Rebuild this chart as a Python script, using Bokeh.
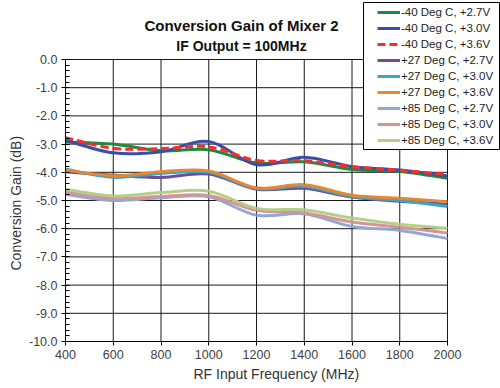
from bokeh.plotting import figure
from bokeh.models import (Range1d, SingleIntervalTicker, PrintfTickFormatter,
                          Legend, LegendItem, Label, Title, BoxAnnotation,
                          ColumnDataSource)
from bokeh.embed import file_html
from bokeh.resources import INLINE

# ---- data ----
freq = [400, 600, 800, 1000, 1200, 1400, 1600, 1800, 2000]

m40_v27 = [-2.92, -3.00, -3.24, -3.20, -3.67, -3.63, -3.90, -3.97, -4.21]
m40_v30 = [-2.86, -3.31, -3.27, -2.91, -3.73, -3.47, -3.80, -3.92, -4.13]
m40_v36 = [-2.77, -3.15, -3.16, -3.10, -3.58, -3.59, -3.80, -3.93, -4.08]
p27_v27 = [-3.98, -4.10, -4.18, -4.06, -4.60, -4.57, -4.88, -5.03, -5.13]
p27_v30 = [-3.88, -4.18, -4.04, -4.00, -4.58, -4.50, -4.86, -5.00, -5.21]
p27_v36 = [-3.92, -4.12, -3.98, -3.95, -4.55, -4.44, -4.81, -4.92, -5.04]
p85_v27 = [-4.78, -5.00, -4.90, -4.87, -5.52, -5.47, -5.92, -6.06, -6.35]
p85_v30 = [-4.70, -4.92, -4.86, -4.82, -5.35, -5.44, -5.76, -5.95, -6.15]
p85_v36 = [-4.60, -4.84, -4.72, -4.67, -5.28, -5.33, -5.62, -5.84, -5.98]

series_labels = ["-40 Deg C, +2.7V", "-40 Deg C, +3.0V", "-40 Deg C, +3.6V",
                 "+27 Deg C, +2.7V", "+27 Deg C, +3.0V", "+27 Deg C, +3.6V",
                 "+85 Deg C, +2.7V", "+85 Deg C, +3.0V", "+85 Deg C, +3.6V"]
series_values = [m40_v27, m40_v30, m40_v36, p27_v27, p27_v30, p27_v36,
                 p85_v27, p85_v30, p85_v36]
series_colors = ["#1f8a3f", "#3b4ea6", "#ff2a2a", "#6a4f9a", "#3fa3c4",
                 "#e5882f", "#8ea9d9", "#d69593", "#b3cf8b"]
series_dash = ["solid", "solid", "8 4", "solid", "solid", "solid",
               "solid", "solid", "solid"]

# axis tick positions (plot area is 400..2000 MHz, -10..0 dB)
x_ticks = [400, 600, 800, 1000, 1200, 1400, 1600, 1800, 2000]
y_ticks = [0, -1, -2, -3, -4, -5, -6, -7, -8, -9, -10]

FONT = "Liberation Sans"

# frame geometry: the frame also covers the title / legend area so that
# annotations drawn there are not clipped.
FRAME_L, FRAME_R, FRAME_T, FRAME_B = 65, 500, 0, 341
PLOT_R_PX, PLOT_T_PX = 447, 59           # where 2000 MHz and 0 dB sit
px_per_mhz = (PLOT_R_PX - FRAME_L) / (x_ticks[-1] - x_ticks[0])
px_per_db = (FRAME_B - PLOT_T_PX) / (y_ticks[0] - y_ticks[-1])
x_end = x_ticks[-1] + (FRAME_R - PLOT_R_PX) / px_per_mhz
y_end = y_ticks[0] + (PLOT_T_PX - FRAME_T) / px_per_db


def smooth_segments(xs, ys):
    """Catmull-Rom control points so that the library's bezier glyph draws
    an Excel-like smoothed line through the data points."""
    n = len(xs)
    d = {k: [] for k in ("x0", "y0", "x1", "y1", "cx0", "cy0", "cx1", "cy1")}
    for i in range(n - 1):
        xp, yp = (xs[i - 1], ys[i - 1]) if i > 0 else (xs[i], ys[i])
        xn, yn = (xs[i + 2], ys[i + 2]) if i + 2 < n else (xs[i + 1], ys[i + 1])
        d["x0"].append(xs[i]); d["y0"].append(ys[i])
        d["x1"].append(xs[i + 1]); d["y1"].append(ys[i + 1])
        d["cx0"].append(xs[i] + (xs[i + 1] - xp) / 6.0)
        d["cy0"].append(ys[i] + (ys[i + 1] - yp) / 6.0)
        d["cx1"].append(xs[i + 1] - (xn - xs[i]) / 6.0)
        d["cy1"].append(ys[i + 1] - (yn - ys[i]) / 6.0)
    return ColumnDataSource(d)


p = figure(width=500, height=388, output_backend="svg", toolbar_location=None,
           x_range=Range1d(x_ticks[0], x_end), y_range=Range1d(y_ticks[-1], y_end),
           min_border=0, min_border_left=FRAME_L, min_border_right=500 - FRAME_R,
           min_border_top=FRAME_T, min_border_bottom=388 - FRAME_B)

p.background_fill_color = "white"
p.border_fill_color = "white"
p.outline_line_color = None
p.xgrid.visible = False
p.ygrid.visible = False

# axes
p.xaxis.ticker = SingleIntervalTicker(interval=200, num_minor_ticks=0)
p.yaxis.ticker = SingleIntervalTicker(interval=1, num_minor_ticks=5)
p.yaxis.formatter = PrintfTickFormatter(format="%.1f")
p.xaxis.bounds = (x_ticks[0], x_ticks[-1])
p.yaxis.bounds = (y_ticks[-1], y_ticks[0])

for ax in (p.xaxis[0], p.yaxis[0]):
    ax.axis_line_color = "black"
    ax.major_tick_line_color = "black"
    ax.major_tick_out = 4
    ax.major_tick_in = 0
    ax.major_label_text_font = FONT
    ax.major_label_text_font_size = "12.5px"
    ax.major_label_text_color = "#404040"
    ax.major_label_standoff = 4

p.xaxis.minor_tick_line_color = None
p.yaxis.minor_tick_line_color = "black"
p.yaxis.minor_tick_in = 4
p.yaxis.minor_tick_out = 0

# axis titles as side-panel titles (placed like the reference)
p.add_layout(Title(text="RF Input Frequency (MHz)", align="left", offset=128,
                   text_font=FONT, text_font_size="14px",
                   text_font_style="normal", text_color="#333333",
                   standoff=5), "below")
p.add_layout(Title(text="Conversion Gain (dB)", align="left", offset=71,
                   text_font=FONT, text_font_size="14px",
                   text_font_style="normal", text_color="#333333",
                   standoff=5), "left")

# grid lines and plot-area border
p.segment(x0=x_ticks, y0=[y_ticks[-1]] * len(x_ticks), x1=x_ticks,
          y1=[y_ticks[0]] * len(x_ticks), line_color="#1a1a1a", line_width=1)
p.segment(x0=[x_ticks[0]] * len(y_ticks), y0=y_ticks,
          x1=[x_ticks[-1]] * len(y_ticks), y1=y_ticks,
          line_color="#1a1a1a", line_width=1)

# data curves
curve_renderers = []
for vals, col, dash in zip(series_values, series_colors, series_dash):
    src = smooth_segments(freq, vals)
    r = p.bezier(x0="x0", y0="y0", x1="x1", y1="y1", cx0="cx0", cy0="cy0",
                 cx1="cx1", cy1="cy1", source=src, line_color=col, line_width=3,
                 line_dash=dash)
    curve_renderers.append(r)

# legend box
p.add_layout(BoxAnnotation(left=363 - FRAME_L, right=499 - FRAME_L,
                           top=FRAME_B - 2, bottom=FRAME_B - 149,
                           left_units="screen", right_units="screen",
                           top_units="screen", bottom_units="screen",
                           fill_color="white", fill_alpha=1,
                           line_color="black", line_width=1, line_alpha=1))

items = [LegendItem(label=lab, renderers=[r])
         for lab, r in zip(series_labels, curve_renderers)]

legend = Legend(items=items, location=(377 - FRAME_L, FRAME_B - 148),
                glyph_width=23, glyph_height=16, label_height=16,
                label_standoff=1, spacing=0, padding=0, margin=0,
                label_text_font=FONT, label_text_font_size="11.5px",
                label_text_color="#222222",
                border_line_color=None, background_fill_alpha=0)
p.add_layout(legend, "center")

# chart titles
p.add_layout(Label(x=241 - FRAME_L, y=FRAME_B - 25, x_units="screen", y_units="screen",
                   text="Conversion Gain of Mixer 2", text_align="center",
                   text_baseline="middle", text_font=FONT,
                   text_font_size="15px", text_font_style="bold",
                   text_color="#111111"))
p.add_layout(Label(x=241 - FRAME_L, y=FRAME_B - 45, x_units="screen", y_units="screen",
                   text="IF Output = 100MHz", text_align="center",
                   text_baseline="middle", text_font=FONT,
                   text_font_size="14px", text_font_style="bold",
                   text_color="#111111"))

open("out.html", "w").write(file_html(p, INLINE))
